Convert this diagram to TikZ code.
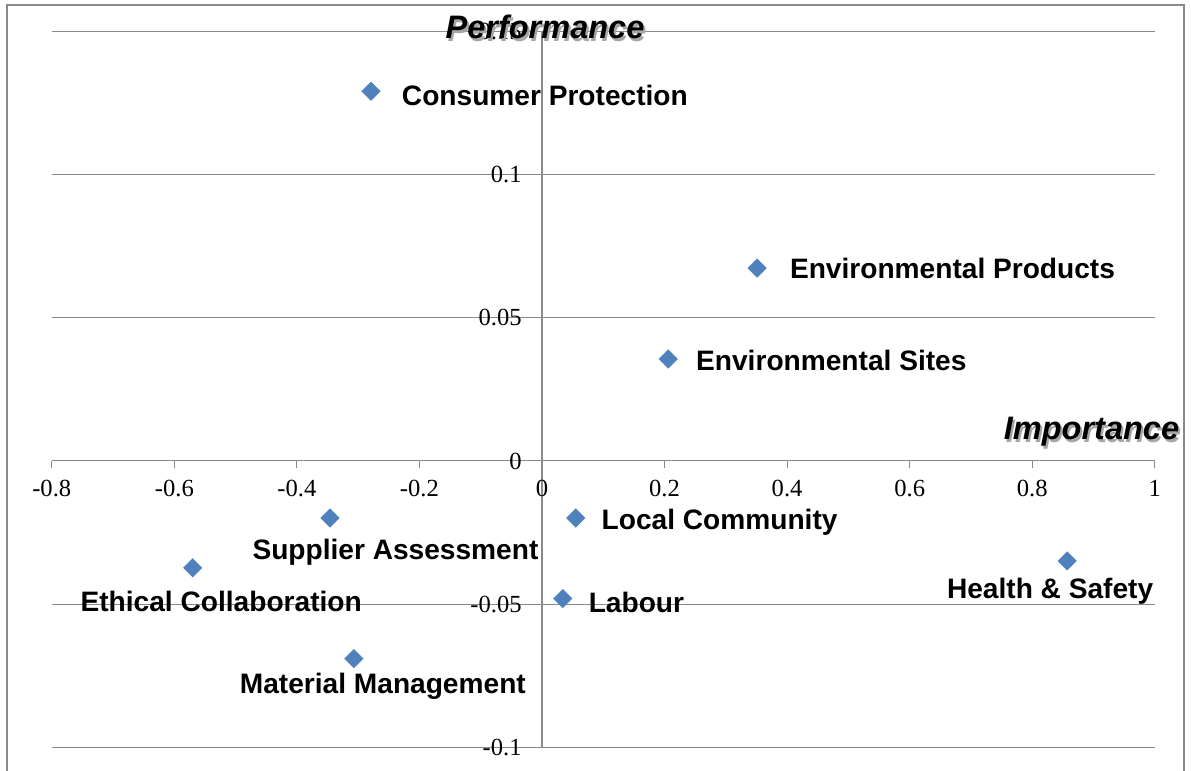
\documentclass[tikz,border=0pt]{standalone}
\usepackage{fontspec}
\setmainfont{Liberation Serif}
\newfontfamily\arialfont{Liberation Sans}
\usetikzlibrary{shapes.geometric,positioning}
\definecolor{pointblue}{HTML}{4F81BD}
\definecolor{gridgray}{HTML}{8A8A8A}
\tikzset{
  frame/.style={draw=gridgray, line width=1.3pt},
  grid line/.style={draw=gridgray, line width=0.6pt},
  point/.style={shape=diamond, fill=pointblue, inner sep=0pt,
    minimum width=0.39cm, minimum height=0.39cm},
  lbl/.style={inner sep=0pt, font=\arialfont\bfseries\fontsize{16}{18}\selectfont},
  ticklbl/.style={inner sep=0pt, font=\fontsize{14}{16}\selectfont},
  axtitle/.style={inner sep=0pt, font=\arialfont\bfseries\itshape\fontsize{18.5}{20}\selectfont},
  shadow/.style={text=black!35},
}
\begin{document}
\begin{tikzpicture}[x=12.256cm, y=57.32cm]
  \useasboundingbox (-0.8845,-0.10816) rectangle (1.0591,0.16085);
  % chart frame, cut off at the bottom
  \draw[frame] (-0.873,-0.10816) |- (1.0477,0.1591) -- (1.0477,-0.10816);
  % grid
  \foreach \y in {0.15,0.1,0.05,-0.05,-0.1}
    \draw[grid line] (-0.8,\y) -- (1,\y);
  \draw[grid line] (0,0.15) -- (0,-0.1);
  \draw[grid line] (-0.8,0) -- (1,0);
  % x ticks and labels
  \foreach \x/\t [count=\i] in {-0.8/-0.8,-0.6/-0.6,-0.4/-0.4,-0.2/-0.2,0/0,
      0.2/0.2,0.4/0.4,0.6/0.6,0.8/0.8,1/1} {
    \draw[grid line] (\x,0) -- ++(0,-0.14cm);
    \node[ticklbl, yshift=-0.55cm] (xlab\i) at (\x,0) {\t};
  }
  % y labels
  \foreach \y/\t [count=\i] in {0.15/0.15,0.1/0.1,0.05/0.05,0/0,-0.05/-0.05,-0.1/-0.1}
    \node[ticklbl, anchor=east, xshift=-0.4cm] (ylab\i) at (0,\y) {\t};
  % axis titles
  \coordinate (perfpos) at (0.0049,0.1514);
  \coordinate (imppos) at (0.8967,0.0101);
  \node[axtitle, shadow] (perfshadow) at ([shift={(0.04cm,-0.06cm)}]perfpos) {Performance};
  \node[axtitle] (perf) at (perfpos) {Performance};
  \node[axtitle, shadow] (impshadow) at ([shift={(0.04cm,-0.06cm)}]imppos) {Importance};
  \node[axtitle] (imp) at (imppos) {Importance};
  % data points
  \node[point] (cp) at (-0.279,0.129) {};
  \node[point] (ep) at (0.351,0.0673) {};
  \node[point] (es) at (0.206,0.0356) {};
  \node[point] (lc) at (0.055,-0.0199) {};
  \node[point] (sa) at (-0.346,-0.0199) {};
  \node[point] (ec) at (-0.570,-0.0373) {};
  \node[point] (lb) at (0.034,-0.048) {};
  \node[point] (mm) at (-0.307,-0.069) {};
  \node[point] (hs) at (0.857,-0.0349) {};
  % data labels
  \node[lbl, right=0.41cm of cp, yshift=-0.08cm] (cptext) {Consumer Protection};
  \node[lbl, right=0.45cm of ep] (eptext) {Environmental Products};
  \node[lbl, right=0.35cm of es, yshift=-0.04cm] (estext) {Environmental Sites};
  \node[lbl, right=0.31cm of lc, yshift=-0.08cm] (lctext) {Local Community};
  \node[lbl, right=0.31cm of lb, yshift=-0.08cm] (lbtext) {Labour};
  \node[lbl] (satext) at ([shift={(1.31cm,-0.68cm)}]sa) {Supplier Assessment};
  \node[lbl] (ectext) at ([shift={(0.57cm,-0.68cm)}]ec) {Ethical Collaboration};
  \node[lbl] (mmtext) at ([shift={(0.58cm,-0.56cm)}]mm) {Material Management};
  \node[lbl] (hstext) at ([shift={(-0.34cm,-0.6cm)}]hs) {Health \& Safety};
\end{tikzpicture}
\end{document}
